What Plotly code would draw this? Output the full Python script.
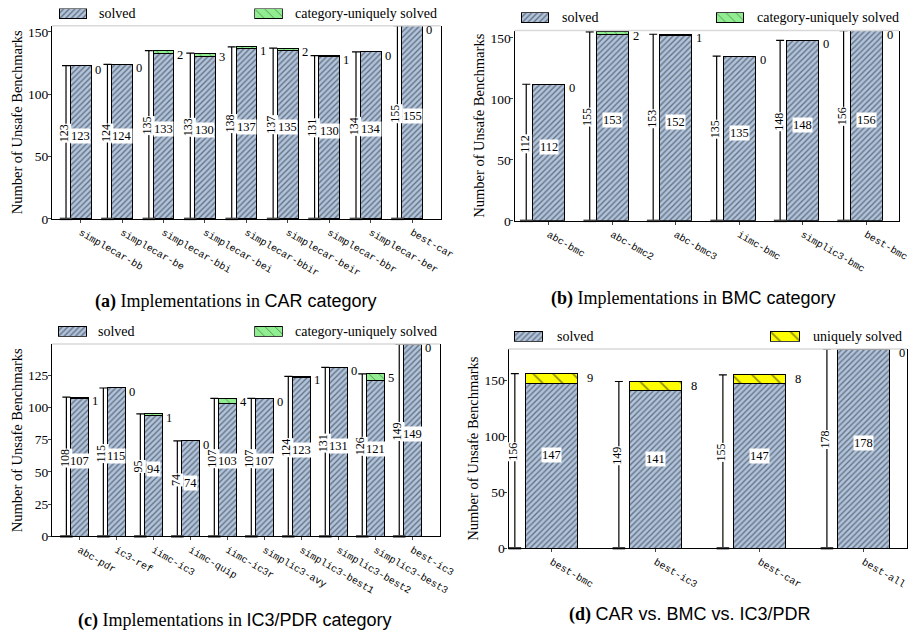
import plotly.graph_objects as go

# ---------------- data ----------------
car_cats = ["simplecar-bb", "simplecar-be", "simplecar-bbi", "simplecar-bei", "simplecar-bbir",
            "simplecar-beir", "simplecar-bbr", "simplecar-ber", "best-car"]
car_solved = [123, 124, 133, 130, 137, 135, 130, 134, 155]
car_unique = [0, 0, 2, 3, 1, 2, 1, 0, 0]

bmc_cats = ["abc-bmc", "abc-bmc2", "abc-bmc3", "iimc-bmc", "simplic3-bmc", "best-bmc"]
bmc_solved = [112, 153, 152, 135, 148, 156]
bmc_unique = [0, 2, 1, 0, 0, 0]

ic3_cats = ["abc-pdr", "ic3-ref", "iimc-ic3", "iimc-quip", "iimc-ic3r", "simplic3-avy",
            "simplic3-best1", "simplic3-best2", "simplic3-best3", "best-ic3"]
ic3_solved = [107, 115, 94, 74, 103, 107, 123, 131, 121, 149]
ic3_unique = [1, 0, 1, 0, 4, 0, 1, 0, 5, 0]

all_cats = ["best-bmc", "best-ic3", "best-car", "best-all"]
all_solved = [147, 141, 147, 178]
all_unique = [9, 8, 8, 0]

legend_labels = ["solved", "category-uniquely solved", "uniquely solved"]

captions = [
    "<b>(a)</b> Implementations in <span style='font-family:Liberation Sans'>CAR category</span>",
    "<b>(b)</b> Implementations in <span style='font-family:Liberation Sans'>BMC category</span>",
    "<b>(c)</b> Implementations in <span style='font-family:Liberation Sans'>IC3/PDR category</span>",
    "<b>(d)</b> <span style='font-family:Liberation Sans'>CAR vs. BMC vs. IC3/PDR</span>",
]

# ---------------- layout config ----------------
W, H = 923, 642
SERIF = "Liberation Serif"
MONO = "Liberation Mono"
SOLVED_COLOR = "#b0c4de"


def px_x(v):
    return v / W


def px_y(v):
    return 1 - v / H


panels = [
    dict(cats=car_cats, solved=car_solved, unique=car_unique, ulabel=legend_labels[1],
         ucolor="#90ee90", usize=7, dom_x=(53, 448), dom_y=(221, 25), xr=(-0.69, 8.69), dtick=50,
         uoff=0.285, sw=[(60, 88, 99), (259, 287, 298)], legy=13, cap=(240, 305)),
    dict(cats=bmc_cats, solved=bmc_solved, unique=bmc_unique, ulabel=legend_labels[1],
         ucolor="#90ee90", usize=7, dom_x=(523, 914), dom_y=(223, 30), xr=(-0.54, 5.52), dtick=50,
         uoff=0.29, sw=[(530, 558, 569), (728, 756, 767)], legy=17, cap=(705, 302)),
    dict(cats=ic3_cats, solved=ic3_solved, unique=ic3_unique, ulabel=legend_labels[1],
         ucolor="#90ee90", usize=7, dom_x=(53, 447), dom_y=(543, 348), xr=(-0.74, 9.74), dtick=25,
         uoff=0.28, sw=[(59, 88, 98), (259, 287, 298)], legy=335, cap=(239, 628)),
    dict(cats=all_cats, solved=all_solved, unique=all_unique, ulabel=legend_labels[2],
         ucolor="#ffff00", usize=14, dom_x=(517, 922), dom_y=(555, 353), xr=(-0.415, 3.415), dtick=50,
         uoff=0.32, sw=[(523, 552, 564), (783, 813, 824)], legy=340, cap=(701, 622)),
]

LINE_OFF = -0.355

fig = go.Figure()
annotations = []
shapes = []
layout = {}


def solved_marker():
    return dict(color=SOLVED_COLOR, line=dict(color="black", width=1),
                pattern=dict(shape="/", fgcolor="#1f1f1f", bgcolor=SOLVED_COLOR, size=4, solidity=0.35))


def unique_marker(p):
    return dict(color=p["ucolor"], line=dict(color="black", width=1),
                pattern=dict(shape="\\", fgcolor="#1a1a1a", bgcolor=p["ucolor"], size=p["usize"],
                             solidity=0.12))


ax_count = 4
for k, p in enumerate(panels):
    sfx = "" if k == 0 else str(k + 1)
    xa, ya = "x" + sfx, "y" + sfx
    n = len(p["cats"])
    xs = list(range(n))
    totals = [s + u for s, u in zip(p["solved"], p["unique"])]

    fig.add_trace(go.Bar(x=xs, y=p["solved"], width=0.5, name="solved", xaxis=xa, yaxis=ya,
                         showlegend=False, marker=solved_marker(), hoverinfo="skip"))
    fig.add_trace(go.Bar(x=xs, y=p["unique"], width=0.5, name=p["ulabel"], xaxis=xa, yaxis=ya,
                         showlegend=False, marker=unique_marker(p), hoverinfo="skip"))
    # total line (0 -> total) with caps
    fig.add_trace(go.Scatter(
        x=[i + LINE_OFF for i in xs], y=[0] * n, mode="markers", xaxis=xa, yaxis=ya,
        showlegend=False, hoverinfo="skip", cliponaxis=False,
        marker=dict(symbol="line-ew", size=9, line=dict(color="#444", width=2.5), color="#444"),
        error_y=dict(type="data", symmetric=False, array=totals, arrayminus=[0] * n,
                     width=4, thickness=1.2, color="black")))

    ymax = max(totals)
    layout["xaxis" + sfx] = dict(
        domain=[px_x(p["dom_x"][0]), px_x(p["dom_x"][1])], anchor=ya, range=list(p["xr"]),
        tickvals=xs, ticktext=p["cats"], tickangle=30, ticks="outside", ticklen=3,
        tickfont=dict(family=MONO, size=10, color="black"), showline=True, linecolor="black",
        linewidth=1.2, showgrid=False, zeroline=False, fixedrange=True)
    layout["yaxis" + sfx] = dict(
        domain=[px_y(p["dom_y"][0]), px_y(p["dom_y"][1])], anchor=xa, range=[0, ymax],
        dtick=p["dtick"], tick0=0, ticks="outside", ticklen=3, ticklabelstandoff=-3,
        showline=True, linecolor="black",
        linewidth=1.2, mirror=True, showgrid=False, zeroline=False,
        tickfont=dict(family=SERIF, size=13.5, color="black"),
        title=dict(text="Number of Unsafe Benchmarks", font=dict(family=SERIF, size=14.5, color="black"),
                   standoff=2), fixedrange=True)

    shapes.append(dict(type="line", xref=xa + " domain", yref=ya + " domain", x0=0, x1=1, y0=1, y1=1,
                       line=dict(color="#d9d9d9", width=1.5)))

    # rotated total labels (drawn first)
    for i in xs:
        annotations.append(dict(x=i + LINE_OFF, y=totals[i] / 2, xref=xa, yref=ya, text=str(totals[i]),
                                showarrow=False, bgcolor="white", borderpad=0, textangle=-90, yshift=9,
                                xshift=-2, font=dict(family=SERIF, size=12, color="black")))
    for i in xs:
        # inner solved label
        annotations.append(dict(x=i, y=totals[i] / 2, xref=xa, yref=ya, text=str(p["solved"][i]),
                                showarrow=False, bgcolor="white", borderpad=0, yshift=6,
                                font=dict(family=SERIF, size=12.5, color="black")))
        # unique label
        annotations.append(dict(x=i + p["uoff"], y=totals[i], xref=xa, yref=ya, text=str(p["unique"][i]),
                                showarrow=False, xanchor="left", yanchor="middle", yshift=-4,
                                font=dict(family=SERIF, size=12.5, color="black")))

    # legend: hatched swatches drawn as tiny bar charts + text
    for j, (x0, x1, tx) in enumerate(p["sw"]):
        ax_count += 1
        mx, my = "x%d" % ax_count, "y%d" % ax_count
        y0, y1 = p["legy"] + 5, p["legy"] - 5
        fig.add_trace(go.Bar(x=[0], y=[1], width=1, xaxis=mx, yaxis=my, showlegend=False,
                             hoverinfo="skip",
                             marker=solved_marker() if j == 0 else unique_marker(p)))
        layout["xaxis%d" % ax_count] = dict(domain=[px_x(x0 - 0.5), px_x(x1 + 0.5)], anchor=my,
                                             range=[-0.52, 0.52], visible=False, fixedrange=True)
        layout["yaxis%d" % ax_count] = dict(domain=[px_y(y0 + 0.5), px_y(y1 - 0.5)], anchor=mx,
                                             range=[-0.05, 1.05], visible=False, fixedrange=True)
        annotations.append(dict(x=px_x(tx), y=px_y(p["legy"]), xref="paper", yref="paper",
                                text=legend_labels[0] if j == 0 else p["ulabel"], showarrow=False,
                                xanchor="left", yanchor="middle",
                                font=dict(family=SERIF, size=14, color="black")))

    annotations.append(dict(x=px_x(p["cap"][0]), y=px_y(p["cap"][1]), xref="paper", yref="paper",
                            text=captions[k], showarrow=False, xanchor="center", yanchor="middle",
                            font=dict(family=SERIF, size=18, color="black")))

fig.update_layout(
    width=W, height=H, margin=dict(l=0, r=0, t=0, b=0), paper_bgcolor="white", plot_bgcolor="white",
    barmode="stack", showlegend=False, annotations=annotations, shapes=shapes, **layout)

fig.write_html("out.html", config={"displayModeBar": False},
               post_script="document.body.style.margin='0px';")
